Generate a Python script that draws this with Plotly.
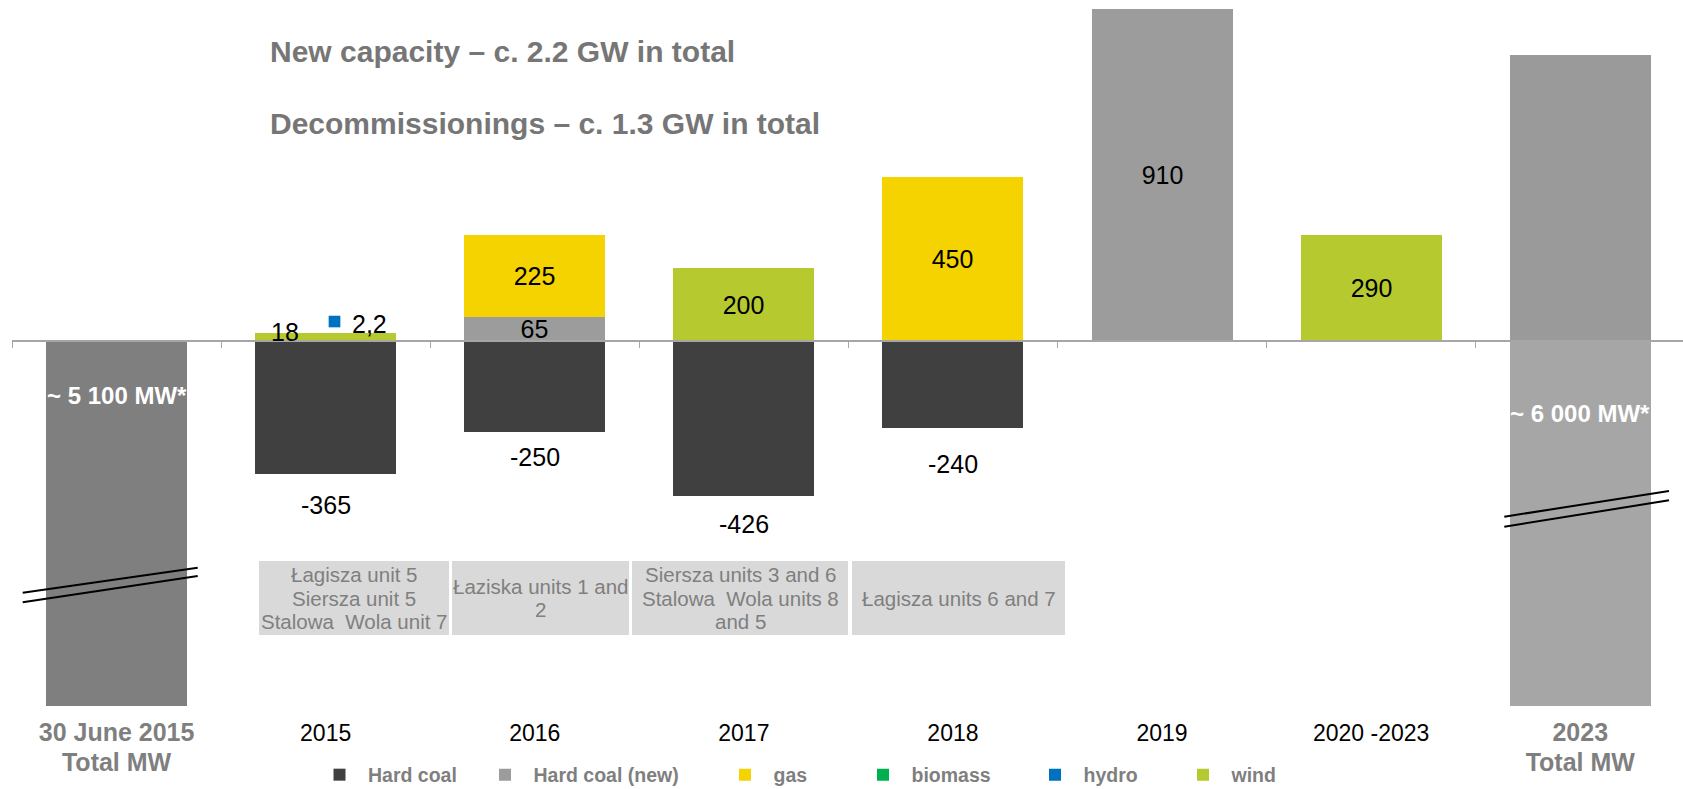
import plotly.graph_objects as go

# ---------------- data ----------------
categories = ["start", "2015", "2016", "2017", "2018", "2019", "2020 -2023", "end"]
tick_labels = ["30 June 2015<br>Total MW", "2015", "2016", "2017", "2018", "2019",
               "2020 -2023", "2023<br>Total MW"]

hard_coal = [None, -365, -250, -426, -240, None, None, None]
hard_coal_new = [None, None, 65, None, None, 910, None, None]
gas = [None, None, 225, None, 450, None, None, None]
biomass = [None, None, None, None, None, None, None, None]
hydro = [None, 2.2, None, None, None, None, None, None]
wind = [None, 18, None, 200, None, None, 290, None]

# total bars are drawn with an axis break (stylised heights)
total_start_drawn = [-1000, None, None, None, None, None, None, None]
total_end_above = [None, None, None, None, None, None, None, 783]
total_end_below = [None, None, None, None, None, None, None, -1000]
total_labels = ["~ 5 100 MW*", "~ 6 000 MW*"]

decommissioned_units = [
    ["Łagisza unit 5", "Siersza unit 5", "Stalowa  Wola unit 7"],
    ["Łaziska units 1 and", "2"],
    ["Siersza units 3 and 6", "Stalowa  Wola units 8", "and 5"],
    ["Łagisza units 6 and 7"],
]
headlines = ["New capacity – c. 2.2 GW in total",
             "Decommissionings – c. 1.3 GW in total"]

# ---------------- geometry / style ----------------
W, H = 1683, 789
L = 12
ZERO_PX = 340.7
PX_PER_UNIT = 0.3648
CAT_W = 209.1
FONT = "Liberation Sans, Arial, sans-serif"
GRAY_TXT = "#7F7F7F"

y_range = [(ZERO_PX - H) / PX_PER_UNIT, ZERO_PX / PX_PER_UNIT]
x_range = [-0.5, -0.5 + (W - L) / CAT_W]


def px_x(px):
    return (px - L) / (W - L)


def px_y(py):
    return 1 - py / H


colors = {
    "Hard coal": "#404040",
    "Hard coal (new)": "#9C9C9C",
    "gas": "#F4D300",
    "biomass": "#00B050",
    "hydro": "#0070C0",
    "wind": "#B6CA30",
}

fig = go.Figure()

BAR_W = 0.674


def add_bar(y, color, name=None, legend=None, text=None):
    fig.add_bar(
        x=categories, y=y, name=name, marker_color=color, marker_line_width=0,
        width=BAR_W, showlegend=legend is not None, legend=legend,
        text=text, textposition="inside" if text else "none",
        insidetextanchor="middle", textangle=0,
        textfont=dict(size=25, color="black", family=FONT),
        hoverinfo="skip",
    )


def labels_for(vals, min_val=50):
    return [f"{v:g}" if (v is not None and v >= min_val) else "" for v in vals]


add_bar(total_start_drawn, "#7F7F7F")
add_bar(total_end_below, "#A6A6A6")
add_bar(total_end_above, "#9A9A9A")
add_bar(hard_coal, colors["Hard coal"], "Hard coal", "legend")
add_bar(hydro, colors["hydro"], "hydro", "legend5")
add_bar(hard_coal_new, colors["Hard coal (new)"], "Hard coal (new)", "legend2",
        labels_for(hard_coal_new))
add_bar(gas, colors["gas"], "gas", "legend3", labels_for(gas))
add_bar(biomass, colors["biomass"], "biomass", "legend4")
add_bar(wind, colors["wind"], "wind", "legend6", labels_for(wind))

# ---------------- annotations ----------------
ann = []
for t, ypx in zip(headlines, [51, 124]):
    ann.append(dict(x=px_x(268), y=px_y(ypx), xref="paper", yref="paper",
                    text=t, showarrow=False, xanchor="left", yanchor="middle",
                    font=dict(size=30, color="#767676", family=FONT, weight="bold")))

# negative labels below hard-coal bars
neg_shift = [31, 25, 28, 36]
k = 0
for i, v in enumerate(hard_coal):
    if v is None:
        continue
    ann.append(dict(x=i, y=v, xref="x", yref="y", text=f"{v:g}", showarrow=False,
                    xanchor="center", yanchor="middle", yshift=-neg_shift[k],
                    font=dict(size=25, color="black", family=FONT)))
    k += 1

# small 2015 labels
i2015 = categories.index("2015")
ann.append(dict(x=i2015, y=wind[i2015], xref="x", yref="y", text=f"{wind[i2015]:g}",
                showarrow=False, xanchor="center", yanchor="middle",
                xshift=-41, yshift=2, font=dict(size=25, color="black", family=FONT)))
ann.append(dict(x=i2015, y=wind[i2015] + hydro[i2015], xref="x", yref="y",
                text=f"{hydro[i2015]:g}".replace(".", ","), showarrow=False,
                xanchor="center", yanchor="middle", xshift=44, yshift=9,
                font=dict(size=25, color="black", family=FONT)))

# totals
ann.append(dict(x=0, y=0, xref="x", yref="y", text=total_labels[0], showarrow=False,
                yanchor="middle", yshift=-(395 - ZERO_PX),
                font=dict(size=24, color="white", family=FONT, weight="bold")))
ann.append(dict(x=len(categories) - 1, y=0, xref="x", yref="y", text=total_labels[1],
                showarrow=False, yanchor="middle", yshift=-(413 - ZERO_PX),
                font=dict(size=24, color="white", family=FONT, weight="bold")))

# decommissioned unit boxes
box_px = [(259, 449), (452, 629), (632, 848), (852, 1065)]
BOX_TOP, BOX_BOT = 561, 635
LINE_H = 23.5
shapes = []
for (x0, x1), lines in zip(box_px, decommissioned_units):
    shapes.append(dict(type="rect", xref="paper", yref="paper",
                       x0=px_x(x0), x1=px_x(x1), y0=px_y(BOX_BOT), y1=px_y(BOX_TOP),
                       fillcolor="#D9D9D9", line_width=0, layer="below"))
    mid = (BOX_TOP + BOX_BOT) / 2
    n = len(lines)
    for j, t in enumerate(lines):
        yc = mid + (j - (n - 1) / 2) * LINE_H
        ann.append(dict(x=px_x((x0 + x1) / 2), y=px_y(yc),
                        xref="paper", yref="paper", text=t, showarrow=False,
                        xanchor="center", yanchor="middle", align="center",
                        font=dict(size=20.5, color=GRAY_TXT, family=FONT)))

# axis-break marks
for (ax0, ay0, ax1, ay1) in [(22.7, 592.7, 197.7, 567.7), (22.7, 602.3, 197.7, 576),
                             (1504.3, 516.7, 1669, 491), (1504.3, 526.7, 1669, 500.3)]:
    shapes.append(dict(type="line", xref="paper", yref="paper",
                       x0=px_x(ax0), y0=px_y(ay0), x1=px_x(ax1), y1=px_y(ay1),
                       line=dict(color="black", width=2), layer="above"))

# hydro marker square
shapes.append(dict(type="rect", xref="x", yref="y", xsizemode="pixel", ysizemode="pixel",
                   xanchor=i2015, yanchor=wind[i2015] + hydro[i2015],
                   x0=3, x1=14.7, y0=6, y1=17.6,
                   fillcolor=colors["hydro"], line_width=0, layer="above"))

# ---------------- tick labels ----------------
tick_text = []
for t in tick_labels:
    if "Total" in t:
        parts = t.split("<br>")
        tick_text.append("<br>".join(
            f"<b><span style='color:{GRAY_TXT};font-size:25px'>{p}</span></b>" for p in parts))
    else:
        tick_text.append(t)

# ---------------- legends ----------------
leg_sym_px = [339.5, 505, 745, 883, 1055, 1203]
ITEMW = 47
legend_common = dict(orientation="h", xanchor="left", yanchor="middle",
                     bgcolor="rgba(0,0,0,0)", itemwidth=ITEMW, borderwidth=0,
                     font=dict(size=19.5, color=GRAY_TXT, family=FONT, weight="bold"),
                     itemclick=False, itemdoubleclick=False)
legend_layout = {}
for i, sx in enumerate(leg_sym_px):
    key = "legend" if i == 0 else f"legend{i + 1}"
    legend_layout[key] = dict(legend_common, x=px_x(sx - (5 + ITEMW / 2)), y=px_y(775))

fig.update_layout(
    width=W, height=H,
    margin=dict(l=L, r=0, t=0, b=0, autoexpand=False),
    paper_bgcolor="white", plot_bgcolor="white",
    barmode="relative", bargap=0,
    font=dict(family=FONT),
    uniformtext=dict(minsize=25, mode="show"),
    xaxis=dict(type="category", categoryorder="array", categoryarray=categories,
               range=x_range, anchor="free", position=(H - ZERO_PX) / H,
               showline=True, linecolor="#A6A6A6", linewidth=1.5,
               ticks="outside", tickson="boundaries", ticklen=7, tickwidth=1.3,
               tickcolor="#A6A6A6", tickvals=categories, ticktext=tick_text,
               tickfont=dict(size=23, color="black", family=FONT),
               ticklabelstandoff=372, showgrid=False, zeroline=False,
               automargin=False, fixedrange=True),
    yaxis=dict(range=y_range, visible=False, showgrid=False, zeroline=False,
               automargin=False, fixedrange=True),
    annotations=ann, shapes=shapes,
    **legend_layout,
)

fig.write_html(
    "out.html",
    config={"displayModeBar": False},
    post_script="document.body.style.margin='0px';document.body.style.overflow='hidden';",
)
